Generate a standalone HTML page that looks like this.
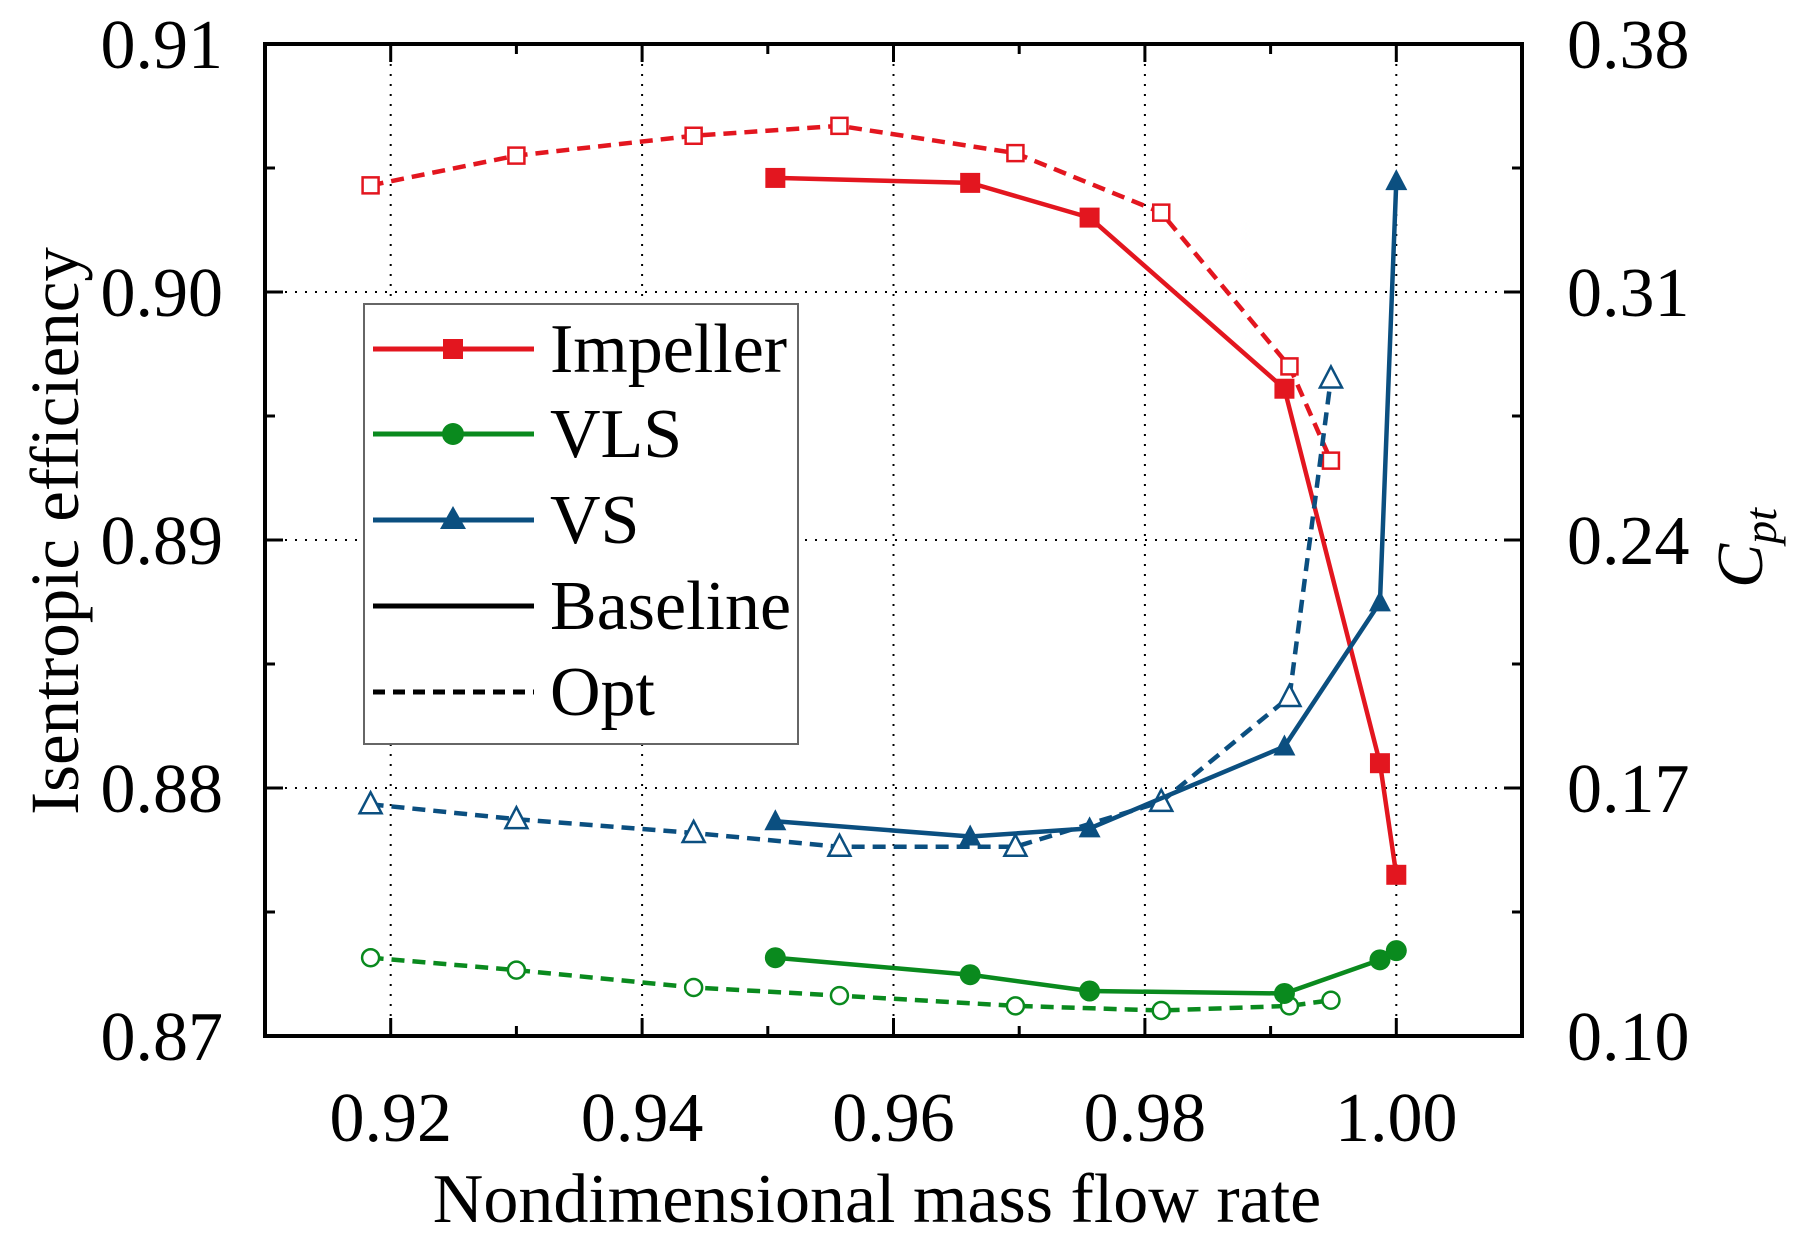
<!DOCTYPE html>
<html><head><meta charset="utf-8"><style>
html,body{margin:0;padding:0;background:#fff;}
svg{display:block;font-family:"Liberation Serif",serif;}
</style></head><body>
<svg id="chart" width="1800" height="1252" viewBox="0 0 1800 1252">
<g id="grid"></g>
<g id="series"></g>
<g id="axes"></g>
<text x="877" y="1222" font-size="70" text-anchor="middle">Nondimensional mass flow rate</text>
<text transform="translate(78,531) rotate(-90)" font-size="69" text-anchor="middle">Isentropic efficiency</text>
<text transform="translate(1762,548) rotate(-90)" font-size="66" font-style="italic" text-anchor="middle">C<tspan font-size="46" dy="14">pt</tspan></text>
<g>
<rect x="364" y="304" width="434" height="440" fill="#fff" stroke="#666" stroke-width="2"/>
<g><line x1="373" y1="349" x2="534" y2="349" stroke="#e3161f" stroke-width="5"/><rect x="443" y="339" width="20" height="20" fill="#e3161f"/><text x="550" y="372" font-size="70">Impeller</text></g>
<g><line x1="373" y1="434" x2="534" y2="434" stroke="#0a8a1e" stroke-width="5"/><circle cx="453" cy="434" r="11" fill="#0a8a1e"/><text x="550" y="457" font-size="70">VLS</text></g>
<g><line x1="373" y1="520" x2="534" y2="520" stroke="#0b4f80" stroke-width="5"/><polygon points="453,506 440,529 466,529" fill="#0b4f80"/><text x="550" y="543" font-size="70">VS</text></g>
<g><line x1="373" y1="606" x2="534" y2="606" stroke="#000" stroke-width="5"/><text x="550" y="629" font-size="70">Baseline</text></g>
<g><line x1="373" y1="692" x2="534" y2="692" stroke="#000" stroke-width="5" stroke-dasharray="12,8"/><text x="550" y="715" font-size="70">Opt</text></g>
</g>
</svg>
<script>
const xTicks=[0.92,0.94,0.96,0.98,1.00];
const yTicks=[0.87,0.88,0.89,0.90,0.91];
const y2Ticks=[0.10,0.17,0.24,0.31,0.38];
const xBase=[0.9506,0.9661,0.9756,0.9911,0.9987,1.0000];
const xOpt=[0.9184,0.9300,0.9441,0.9557,0.9697,0.9813,0.9915,0.9948];
const impBase=[0.9046,0.9044,0.9030,0.8961,0.8810,0.8765];
const impOpt=[0.9043,0.9055,0.9063,0.9067,0.9056,0.9032,0.8970,0.8932];
const vlsBase=[0.1221,0.1173,0.1127,0.1120,0.1215,0.1241];
const vlsOpt=[0.1221,0.1186,0.1137,0.1114,0.1085,0.1072,0.1085,0.1101];
const vsBase=[0.1606,0.1563,0.1586,0.1817,0.2224,0.3413];
const vsOpt=[0.1654,0.1612,0.1573,0.1534,0.1534,0.1661,0.1957,0.2856];

const L=265,R=1522,T=44,B=1036;
const X=v=>L+(v-0.91)/(0.10)*(R-L);
const Y=v=>B-(v-0.87)/(0.04)*(B-T);
const Y2=v=>B-(v-0.10)/(0.28)*(B-T);
const NS='http://www.w3.org/2000/svg';
function mk(tag,attrs,parent){const e=document.createElementNS(NS,tag);for(const k in attrs)e.setAttribute(k,attrs[k]);parent.appendChild(e);return e;}
const grid=document.getElementById('grid'),axes=document.getElementById('axes'),ser=document.getElementById('series');
xTicks.forEach(v=>{const l=mk('line',{x1:X(v),x2:X(v),y1:T,y2:B,stroke:'#000','stroke-width':2,'stroke-dasharray':'2,8'},grid);

});
yTicks.slice(1,4).forEach(v=>{const l=mk('line',{x1:L,x2:R,y1:Y(v),y2:Y(v),stroke:'#000','stroke-width':2,'stroke-dasharray':'2,8'},grid);

});
const fr=mk('rect',{x:L,y:T,width:R-L,height:B-T,fill:'none',stroke:'#000','stroke-width':4},axes);


for(let i=0;i<=10;i++){const v=0.91+i*0.01;const len=(i%2===1)?18:10;
mk('line',{x1:X(v),x2:X(v),y1:B,y2:B-len,stroke:'#000','stroke-width':3},axes);
mk('line',{x1:X(v),x2:X(v),y1:T,y2:T+len,stroke:'#000','stroke-width':3},axes);}
for(let i=0;i<=8;i++){const v=0.87+i*0.005;const len=i%2===0?18:10;
mk('line',{x1:L,x2:L+len,y1:Y(v),y2:Y(v),stroke:'#000','stroke-width':3},axes);
mk('line',{x1:R,x2:R-len,y1:Y(v),y2:Y(v),stroke:'#000','stroke-width':3},axes);}
xTicks.forEach(v=>{const t=mk('text',{x:X(v),y:1141,'font-size':70,'text-anchor':'middle'},axes);t.textContent=v.toFixed(2);

});
yTicks.forEach(v=>{const t=mk('text',{x:223,y:Y(v)+24,'font-size':70,'text-anchor':'end'},axes);t.textContent=v.toFixed(2);

});
y2Ticks.forEach(v=>{const t=mk('text',{x:1567,y:Y2(v)+24,'font-size':70,'text-anchor':'start'},axes);t.textContent=v.toFixed(2);

});
function series(xs,ys,yf,color,dashed,marker,filled,name){
 const g=mk('g',{},ser);
 
 
 const pts=xs.map((x,i)=>X(x)+','+yf(ys[i])).join(' ');
 const a={points:pts,fill:'none',stroke:color,'stroke-width':4.5,'stroke-linejoin':'round'};
 if(dashed)a['stroke-dasharray']='13,8';
 mk('polyline',a,g);
 xs.forEach((x,i)=>{const cx=X(x),cy=yf(ys[i]);let m;
  const st=filled?{fill:color}:{fill:'#fff',stroke:color,'stroke-width':2.5};
  if(marker==='s')m=mk('rect',Object.assign({x:cx-(filled?10:8),y:cy-(filled?10:8),width:filled?20:16,height:filled?20:16},st),g);
  else if(marker==='c')m=mk('circle',Object.assign({cx:cx,cy:cy,r:filled?10.5:8.5},st),g);
  else m=mk('polygon',Object.assign({points:`${cx},${cy-12} ${cx-11},${cy+9} ${cx+11},${cy+9}`},st),g);
  
  });
}
series(xOpt,impOpt,Y,'#e3161f',true,'s',false,'impeller-opt');
series(xBase,impBase,Y,'#e3161f',false,'s',true,'impeller-baseline');
series(xOpt,vlsOpt,Y2,'#0a8a1e',true,'c',false,'vls-opt');
series(xBase,vlsBase,Y2,'#0a8a1e',false,'c',true,'vls-baseline');
series(xOpt,vsOpt,Y2,'#0b4f80',true,'t',false,'vs-opt');
series(xBase,vsBase,Y2,'#0b4f80',false,'t',true,'vs-baseline');
</script>
</body></html>
